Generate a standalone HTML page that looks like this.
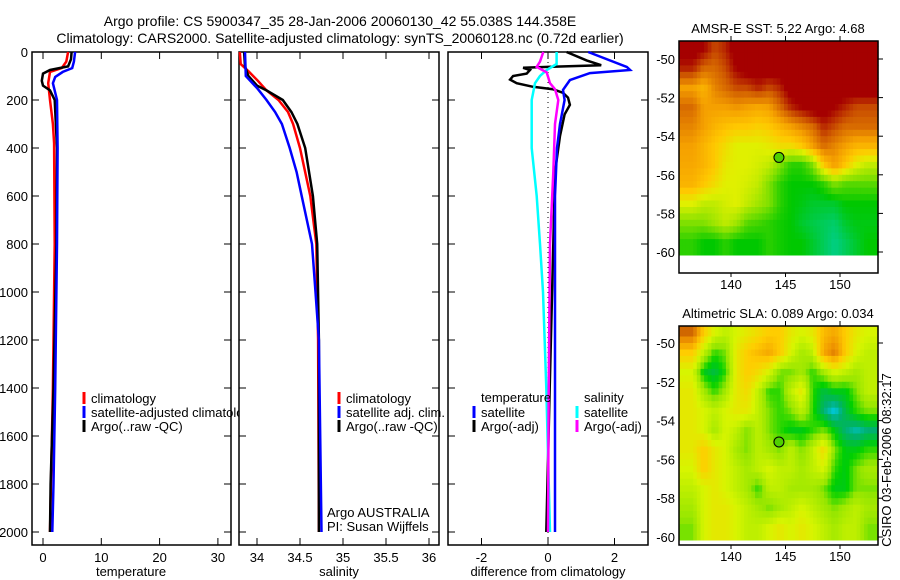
<!DOCTYPE html>
<html><head><meta charset="utf-8"><style>
body{margin:0;background:#fff}
svg{display:block;font-family:"Liberation Sans",sans-serif}
</style></head><body>
<svg id="s" width="900" height="580" viewBox="0 0 900 580">
<rect width="900" height="580" fill="#fff"/>
<text x="340" y="26" font-size="14" text-anchor="middle">Argo profile: CS 5900347_35 28-Jan-2006 20060130_42 55.038S 144.358E</text>
<text x="340" y="43" font-size="14" text-anchor="middle">Climatology: CARS2000. Satellite-adjusted climatology: synTS_20060128.nc (0.72d earlier)</text>
<g id="g"></g>
</svg>
<script>
// ---- profile data ----
const tRedD=[0,40,67,83,130,200,300,380,800,1400,2000];
const tRedV=[4.3,4.0,3.2,1.2,0.9,1.2,1.7,1.9,2.0,1.7,1.2];
const tBluD=[0,40,67,83,104,130,200,400,800,1400,1800,2000];
const tBluV=[5.5,5.3,5.0,3.4,2.1,1.7,2.4,2.5,2.4,2.1,1.8,1.6];
const tBlkD=[0,30,60,75,90,120,140,160,200,400,800,1400,1800,2000];
const tBlkV=[4.9,4.8,4.3,1.2,0.0,-0.2,0.0,1.2,2.0,2.4,2.3,1.8,1.3,1.2];
const sRedD=[0,50,80,120,160,200,250,300,400,600,800,1200,2000];
const sRedV=[33.80,33.81,33.9,34.01,34.11,34.25,34.36,34.42,34.5,34.62,34.69,34.71,34.72];
const sBluD=[0,100,150,200,250,300,400,500,600,800,1000,1200,2000];
const sBluV=[33.86,33.87,34.0,34.11,34.21,34.29,34.38,34.46,34.52,34.64,34.68,34.72,34.75];
const sBlkD=[0,60,100,140,160,200,250,300,400,600,800,1200,2000];
const sBlkV=[33.85,33.86,33.9,34.0,34.11,34.3,34.4,34.47,34.56,34.65,34.7,34.72,34.72];
const dTsD=[0,62,75,88,117,158,200,300,400,600,800,2000];
const dTsV=[1.21,2.37,2.47,1.26,0.66,0.45,0.5,0.36,0.27,0.21,0.21,0.21];
const dTaD=[0,35,55,62,66,75,90,100,115,130,145,155,170,190,220,260,350,500,800,1400,2000];
const dTaV=[0.56,1.16,1.6,0,-0.75,-0.54,-0.64,-1.05,-1.14,-0.94,-0.45,0.15,0.45,0.6,0.66,0.5,0.36,0.21,0.16,0.05,-0.05];
const dSsD=[0,50,75,100,130,200,400,600,800,1000,1400,2000];
const dSsV=[0.26,0.26,-0.04,-0.24,-0.39,-0.49,-0.49,-0.34,-0.24,-0.15,-0.05,0.06];
const dSaD=[0,40,62,85,130,155,200,300,500,800,1400,2000];
const dSaV=[-0.14,-0.24,-0.34,-0.04,0.06,0.21,0.31,0.21,0.16,0.06,0.02,0.0];
const depthTicks=[0,200,400,600,800,1000,1200,1400,1600,1800,2000];
const tempTicks=[0,10,20,30];
const salTicks=[34,34.5,35,35.5,36];
const salTickLabels=["34","34.5","35","35.5","36"];
const diffTicks=[-2,0,2];
// ---- map data (rows lat -49.5..-59.5, cols lon 136.5..152.5) ----
const sstGrid=[
[1,0.95,0.85,0.9,1,1,1,1,1,1,1,1,1,1,1,1,1],
[0.9,0.8,0.8,0.85,0.95,1,1,1,1,1,1,1,1,1,1,1,1],
[0.7,0.65,0.75,0.8,0.85,0.85,0.9,0.85,0.9,1,1,1,1,1,1,1,1],
[0.8,0.7,0.7,0.7,0.72,0.7,0.68,0.7,0.8,0.9,0.95,1,1,0.95,0.9,0.85,0.85],
[0.75,0.7,0.65,0.62,0.6,0.6,0.58,0.6,0.65,0.7,0.75,0.8,0.9,0.85,0.8,0.8,0.8],
[0.7,0.65,0.6,0.55,0.5,0.5,0.5,0.52,0.55,0.55,0.6,0.7,0.8,0.75,0.7,0.65,0.65],
[0.68,0.65,0.6,0.52,0.5,0.5,0.48,0.45,0.35,0.25,0.25,0.35,0.6,0.7,0.6,0.5,0.45],
[0.65,0.6,0.55,0.5,0.5,0.48,0.45,0.35,0.25,0.2,0.2,0.2,0.25,0.35,0.3,0.3,0.3],
[0.5,0.45,0.45,0.48,0.5,0.45,0.4,0.35,0.25,0.2,0.18,0.15,0.15,0.15,0.2,0.2,0.2],
[0.35,0.35,0.4,0.45,0.4,0.3,0.28,0.25,0.22,0.2,0.15,0.12,0.1,0.08,0.15,0.18,0.18],
[0.25,0.2,0.2,0.25,0.2,0.2,0.2,0.25,0.22,0.2,0.2,0.15,0.1,0.05,0.1,0.15,0.2]];
const slaGrid=[
[0.95,0.7,0.55,0.5,0.55,0.6,0.65,0.7,0.7,0.6,0.55,0.6,0.75,0.8,0.7,0.6,0.55],
[0.7,0.5,0.35,0.4,0.6,0.7,0.75,0.8,0.7,0.55,0.45,0.5,0.8,0.9,0.7,0.55,0.5],
[0.55,0.3,0.25,0.35,0.6,0.7,0.65,0.55,0.4,0.4,0.45,0.35,0.45,0.55,0.5,0.45,0.5],
[0.6,0.45,0.35,0.45,0.6,0.65,0.5,0.35,0.35,0.5,0.6,0.35,0.25,0.3,0.3,0.4,0.5],
[0.6,0.55,0.5,0.55,0.6,0.6,0.5,0.4,0.35,0.4,0.5,0.35,0.2,0.1,0.25,0.35,0.4],
[0.6,0.55,0.45,0.55,0.5,0.4,0.5,0.4,0.35,0.3,0.3,0.35,0.4,0.3,0.2,0.15,0.2],
[0.6,0.7,0.6,0.55,0.45,0.4,0.5,0.45,0.4,0.5,0.4,0.5,0.65,0.4,0.3,0.3,0.35],
[0.55,0.7,0.6,0.55,0.5,0.45,0.5,0.55,0.5,0.5,0.45,0.5,0.55,0.35,0.3,0.4,0.45],
[0.5,0.55,0.6,0.55,0.5,0.45,0.35,0.5,0.5,0.45,0.45,0.45,0.4,0.3,0.3,0.4,0.4],
[0.45,0.55,0.6,0.6,0.55,0.5,0.45,0.4,0.45,0.5,0.55,0.5,0.45,0.4,0.45,0.5,0.45],
[0.4,0.55,0.6,0.6,0.55,0.5,0.5,0.55,0.6,0.55,0.6,0.55,0.5,0.45,0.5,0.5,0.4]];
const latTicks=[-50,-52,-54,-56,-58,-60];
const lonTicks=[140,145,150];
const argoLon=144.4, argoLat=-55.1;

const NS="http://www.w3.org/2000/svg";
const G=document.getElementById('g');
function mk(tag,attrs,parent){const e=document.createElementNS(NS,tag);for(const k in attrs)e.setAttribute(k,attrs[k]);(parent||G).appendChild(e);return e;}
const yD=d=>52+d*0.24;
const xT=v=>43+v*5.83;
const xS=v=>257+(v-34)*86;
const xDf=v=>548+v*33.25;
const PT=52,PB=545;
function panel(name,x0,x1){
  const r=mk('rect',{x:x0,y:PT,width:x1-x0,height:PB-PT,fill:'#fff',stroke:'#000','stroke-width':1.5});
  
  
  depthTicks.forEach(d=>{const y=yD(d);
    mk('line',{x1:x0,y1:y,x2:x0+7,y2:y,stroke:'#000'});mk('line',{x1:x1,y1:y,x2:x1-7,y2:y,stroke:'#000'});});
}
function xticks(vals,labs,fx){
  vals.forEach((v,i)=>{const x=fx(v);
    mk('line',{x1:x,y1:PB,x2:x,y2:PB-7,stroke:'#000'});mk('line',{x1:x,y1:PT,x2:x,y2:PT+7,stroke:'#000'});
    const t=mk('text',{x:x,y:PB+17,'font-size':13,'text-anchor':'middle'});t.textContent=labs[i];
    
    
  });
}
function line(name,D,V,fx,color,w){
  const p=mk('polyline',{points:D.map((d,i)=>fx(V[i]).toFixed(1)+','+yD(d).toFixed(1)).join(' '),fill:'none',stroke:color,'stroke-width':w||2.5});
  
  
}
function txt(name,x,y,s,size,anchor){const t=mk('text',{x:x,y:y,'font-size':size||13,'text-anchor':anchor||'start'});t.textContent=s;
  
  return t;}
function leg(name,x,y,color,label){
  const l=mk('line',{x1:x,y1:y-6,x2:x,y2:y+6,stroke:color,'stroke-width':3});
  
  
  txt(name,x+7,y+5,label);
}
// panel 1 temperature
panel('temperature-panel',32,231);
depthTicks.forEach(d=>txt('depth-tick-label',28,yD(d)+5,String(d),13,'end'));
xticks(tempTicks,tempTicks.map(String),xT);
line('temp-climatology',tRedD,tRedV,xT,'#f00');
line('temp-argo',tBlkD,tBlkV,xT,'#000');
line('temp-satellite-adjusted',tBluD,tBluV,xT,'#00f');
txt('x-axis-title-temperature',131,576,'temperature',13,'middle');
leg('legend-climatology',84,398,'#f00','climatology');
leg('legend-satellite-adjusted',84,412,'#00f','satellite-adjusted climatology');
leg('legend-argo',84,426,'#000','Argo(..raw -QC)');
// panel 2 salinity
panel('salinity-panel',239,439);
xticks(salTicks,salTickLabels,xS);
line('sal-climatology',sRedD,sRedV,xS,'#f00');
line('sal-argo',sBlkD,sBlkV,xS,'#000');
line('sal-satellite-adjusted',sBluD,sBluV,xS,'#00f');
txt('x-axis-title-salinity',339,576,'salinity',13,'middle');
leg('legend-sal-climatology',339,398,'#f00','climatology');
leg('legend-sal-satellite',339,412,'#00f','satellite adj. clim.');
leg('legend-sal-argo',339,426,'#000','Argo(..raw -QC)');
txt('argo-australia-label',327,517,'Argo AUSTRALIA');
txt('pi-label',327,531,'PI: Susan Wijffels');
// panel 3 difference
panel('difference-panel',448,648);
xticks(diffTicks,diffTicks.map(String),xDf);
mk('line',{x1:xDf(0),y1:PT,x2:xDf(0),y2:PB,stroke:'#000','stroke-dasharray':'1,4'});
line('diff-temp-argo',dTaD,dTaV,xDf,'#000');
line('diff-sal-satellite',dSsD,dSsV,xDf,'#0ff');
line('diff-sal-argo',dSaD,dSaV,xDf,'#f0f');
line('diff-temp-satellite',dTsD,dTsV,xDf,'#00f');
txt('x-axis-title-difference',548,576,'difference from climatology',13,'middle');
txt('legend-temperature-heading',481,402,'temperature');
leg('legend-diff-temp-sat',474,412,'#00f','satellite');
leg('legend-diff-temp-argo',474,426,'#000','Argo(-adj)');
txt('legend-salinity-heading',584,402,'salinity');
leg('legend-diff-sal-sat',577,412,'#0ff','satellite');
leg('legend-diff-sal-argo',577,426,'#f0f','Argo(-adj)');
// ---- maps ----
function lerpC(stops,v){v=Math.max(0,Math.min(1,v));for(let i=1;i<stops.length;i++){if(v<=stops[i][0]){const a=stops[i-1],b=stops[i],f=(v-a[0])/(b[0]-a[0]);return 'rgb('+[0,1,2].map(k=>Math.round(a[1][k]+(b[1][k]-a[1][k])*f)).join(',')+')';}}return 'rgb('+stops[stops.length-1][1].join(',')+')';}
const sstStops=[[0,[0,208,176]],[0.2,[0,200,0]],[0.35,[128,224,0]],[0.5,[224,240,0]],[0.6,[255,200,0]],[0.7,[245,160,0]],[0.82,[210,96,0]],[0.95,[165,0,0]],[1,[165,0,0]]];
const slaStops=[[0,[32,96,255]],[0.1,[0,200,224]],[0.2,[0,176,112]],[0.32,[0,208,0]],[0.42,[150,230,0]],[0.55,[215,245,0]],[0.7,[255,205,0]],[0.85,[240,150,0]],[1,[192,80,0]]];
function gridVal(g,lat,lon){
  let r=(-49.5-lat),c=(lon-136.5);
  r=Math.max(0,Math.min(g.length-1,r));c=Math.max(0,Math.min(g[0].length-1,c));
  const r0=Math.floor(r),c0=Math.floor(c),r1=Math.min(r0+1,g.length-1),c1=Math.min(c0+1,g[0].length-1),fr=r-r0,fc=c-c0;
  return g[r0][c0]*(1-fr)*(1-fc)+g[r0][c1]*(1-fr)*fc+g[r1][c0]*fr*(1-fc)+g[r1][c1]*fr*fc;
}
function map(name,top,bot,latY,grid,stops,title){
  const x0=679,x1=878;
  const fx=lon=>731+(lon-140)*10.9;
  const fy=lat=>latY(lat);
  const grp=mk('g',{});
  
  
  const dataBot=fy(-60.15);
  const step=1/3;
  for(let lat=-49;lat>-60.15;lat-=step){
    for(let lon=135.2;lon<153.4;lon+=step){
      const x=Math.max(x0,fx(lon)),y=Math.max(top,fy(lat));
      const xe=Math.min(x1,fx(lon+step)),ye=Math.min(dataBot,fy(lat-step));
      if(xe<=x||ye<=y)continue;
      mk('rect',{x:x.toFixed(1),y:y.toFixed(1),width:(xe-x+0.6).toFixed(1),height:(ye-y+0.6).toFixed(1),fill:lerpC(stops,gridVal(grid,lat-step/2,lon+step/2))},grp);
    }
  }
  mk('rect',{x:x0,y:top,width:x1-x0,height:bot-top,fill:'none',stroke:'#000','stroke-width':1.5});
  latTicks.forEach(l=>{const y=fy(l);mk('line',{x1:x1,y1:y,x2:x1+5,y2:y,stroke:'#000'});
    txt('lat-tick-label',675,y+5,String(l),13,'end');});
  lonTicks.forEach(l=>{const x=fx(l);mk('line',{x1:x,y1:top,x2:x,y2:top-5,stroke:'#000'});
    mk('line',{x1:x,y1:bot,x2:x,y2:bot+4,stroke:'#000'});
    txt('lon-tick-label',x,bot+16,String(l),13,'middle');});
  const c=mk('circle',{cx:fx(argoLon),cy:fy(argoLat),r:5,fill:'#50d000',stroke:'#000','stroke-width':1});
  
  
  txt(name+'-title',778,top-8,title,13,'middle');
}
map('sst-map',41,273,lat=>59+(-50-lat)*19.3,sstGrid,sstStops,'AMSR-E SST: 5.22 Argo: 4.68');
map('sla-map',326,545,lat=>343+(-50-lat)*19.4,slaGrid,slaStops,'Altimetric SLA: 0.089 Argo: 0.034');
const ts=txt('timestamp-label',0,0,'CSIRO 03-Feb-2006 08:32:17',13,'middle');
ts.setAttribute('transform','translate(891,460) rotate(-90)');
</script>
</body></html>
